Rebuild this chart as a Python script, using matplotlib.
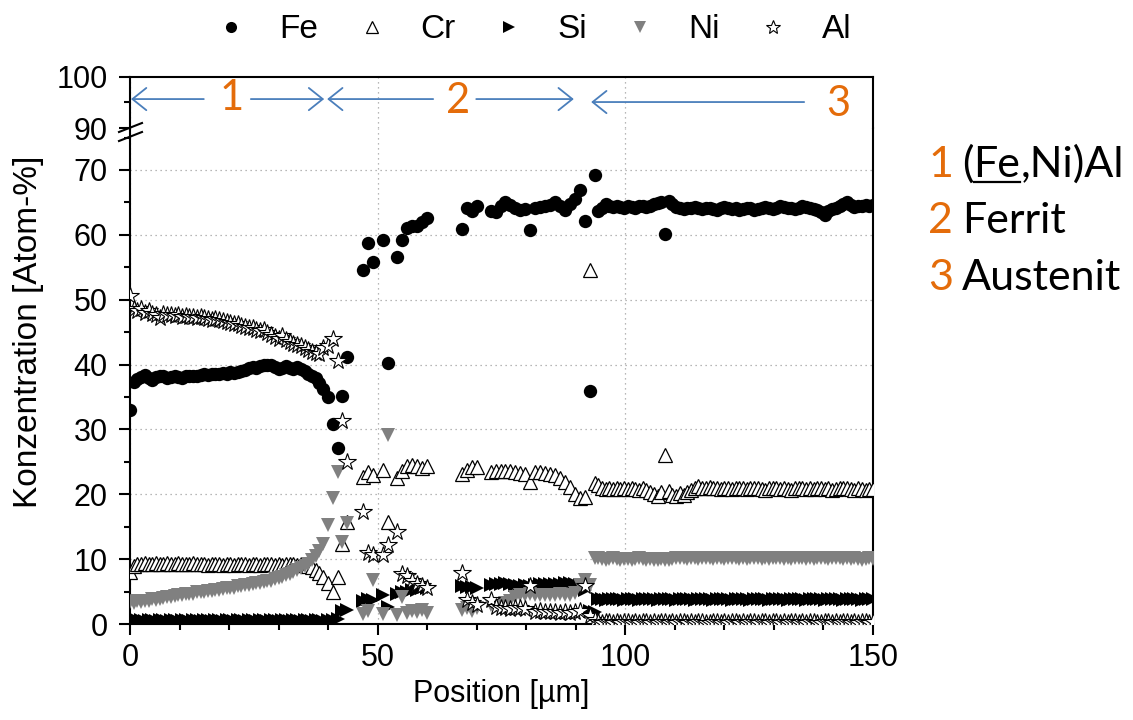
import matplotlib
matplotlib.use("Agg")
import matplotlib.pyplot as plt
import numpy as np
from matplotlib.lines import Line2D
from matplotlib.ticker import MultipleLocator

W, H = 1133, 720
ORANGE = "#E46C0A"
BLUE = "#4A7EBB"
GREY = "#808080"
LABEL_FONT = ["Lato", "DejaVu Sans"]

plt.rcParams["font.family"] = ["Liberation Sans", "DejaVu Sans"]
plt.rcParams["font.size"] = 22

# --- line scan data, concentration in Atom-% ---
elements = ["Fe", "Cr", "Si", "Ni", "Al"]

# zone 1: (Fe,Ni)Al
pos_1 = [0, 0.75, 1.5, 2.25, 3, 3.75, 4.5, 5.25, 6, 6.75, 7.5, 8.25, 9, 9.75, 10.5, 11.25, 12, 12.75,
         13.5, 14.25, 15, 15.75, 16.5, 17.25, 18, 18.75, 19.5, 20.25, 21, 21.75, 22.5, 23.25, 24, 24.75,
         25.5, 26.25, 27, 27.75, 28.5, 29.25, 30, 30.75, 31.5, 32.25, 33, 33.75, 34.5, 35.25, 36, 36.75,
         37.5, 38.25, 39]
fe_1 = [33.0, 37.3, 37.8, 38.1, 38.4, 38.0, 37.6, 38.1, 38.3, 38.2,
        38.0, 38.1, 38.2, 38.1, 38.0, 38.2, 38.3, 38.2, 38.3, 38.4,
        38.5, 38.4, 38.6, 38.5, 38.6, 38.7, 38.6, 38.8, 38.7, 38.9,
        39.0, 39.2, 39.4, 39.6, 39.5, 39.7, 39.9, 40.0, 39.9, 39.6,
        39.3, 39.4, 39.7, 39.5, 39.3, 39.6, 39.3, 39.0, 38.6, 38.3,
        37.9, 37.2, 36.3]
cr_1 = [8.0, 9.0, 9.3, 9.2, 9.4, 9.2, 9.3, 9.4, 9.2, 9.3,
        9.4, 9.3, 9.2, 9.4, 9.3, 9.2, 9.3, 9.4, 9.3, 9.2,
        9.3, 9.1, 9.2, 9.3, 9.2, 9.1, 9.3, 9.2, 9.1, 9.2,
        9.3, 9.2, 9.1, 9.2, 9.3, 9.1, 9.2, 9.3, 9.2, 9.1,
        9.2, 9.1, 9.2, 9.3, 9.2, 9.1, 9.2, 9.1, 9.0, 8.8,
        8.3, 7.8, 7.3]
si_1 = [0.6, 0.5, 0.6, 0.6, 0.5, 0.6, 0.6, 0.5, 0.6, 0.6,
        0.5, 0.6, 0.6, 0.5, 0.6, 0.6, 0.5, 0.6, 0.6, 0.5,
        0.6, 0.6, 0.5, 0.6, 0.6, 0.5, 0.6, 0.6, 0.5, 0.6,
        0.6, 0.5, 0.6, 0.6, 0.5, 0.6, 0.6, 0.5, 0.6, 0.6,
        0.5, 0.6, 0.6, 0.5, 0.6, 0.6, 0.5, 0.6, 0.6, 0.5,
        0.6, 0.6, 0.5]
ni_1 = [3.4, 3.3, 3.5, 3.4, 3.6, 3.6, 3.8, 3.7, 3.9, 4.0,
        4.1, 4.1, 4.3, 4.4, 4.4, 4.6, 4.6, 4.7, 4.9, 4.9,
        5.0, 5.1, 5.1, 5.3, 5.3, 5.4, 5.5, 5.6, 5.6, 5.8,
        5.9, 6.0, 6.0, 6.2, 6.3, 6.3, 6.5, 6.6, 6.7, 6.9,
        7.1, 7.3, 7.5, 7.7, 8.0, 8.3, 8.6, 8.9, 9.3, 9.9,
        10.5, 11.3, 12.4]
al_1 = [50.6, 48.6, 48.3, 48.5, 48.0, 48.2, 47.8, 47.7, 47.2, 47.8,
        47.6, 47.7, 47.5, 47.6, 47.4, 47.5, 47.3, 47.4, 47.2, 47.3,
        47.1, 47.0, 46.9, 47.0, 46.8, 46.7, 46.6, 46.4, 46.2, 46.3,
        46.0, 45.8, 45.6, 45.7, 45.4, 45.1, 45.3, 44.9, 44.6, 44.3,
        44.0, 44.4, 43.8, 43.5, 43.2, 43.0, 42.8, 42.6, 42.3, 42.0,
        41.8, 41.6, 42.5]

# transition 1 -> 2
pos_t = [39.9, 40.9, 41.9, 42.9, 43.9]
fe_t = [35.0, 30.8, 27.2, 35.1, 41.2]
cr_t = [6.3, 5.0, 7.3, 12.3, 15.8]
si_t = [0.6, 0.6, 0.7, 2.0, 2.2]
ni_t = [15.3, 19.4, 23.5, 12.7, 15.6]
al_t = [42.8, 44.0, 40.5, 31.3, 25.0]

# zone 2: ferrite, first part
pos_2a = [47, 48, 49, 51, 52, 54, 55, 56, 57, 58, 59, 60]
fe_2a = [54.6, 58.8, 55.8, 59.2, 40.2, 56.6, 59.2, 61.1, 61.4, 61.4, 62.0, 62.6]
cr_2a = [22.6, 23.5, 23.0, 23.8, 15.8, 22.5, 23.6, 24.3, 24.5, 24.3, 24.1, 24.3]
si_2a = [3.5, 3.8, 3.7, 4.5, 2.6, 4.6, 4.9, 5.0, 5.2, 5.3, 5.5, 5.6]
ni_2a = [1.6, 2.0, 6.8, 1.6, 29.1, 1.4, 4.2, 1.7, 2.0, 1.8, 2.2, 1.7]
al_2a = [17.3, 10.9, 10.6, 10.7, 12.2, 14.2, 7.7, 7.4, 6.6, 6.2, 5.9, 5.6]

# zone 2: ferrite, second part
pos_2b = [67.0, 68.0, 69.0, 70.0, 72.8, 73.8, 74.8, 75.8, 76.8, 77.8, 78.8, 79.8, 80.8,
          81.8, 82.8, 83.8, 84.8, 85.8, 86.8, 87.8, 88.8, 89.8, 90.8, 91.8, 92.8, 93.8]
fe_2b = [60.9, 64.2, 63.6, 64.4, 63.6, 63.5, 64.4, 65.0, 64.6, 64.2, 63.8, 64.0, 60.7,
         64.2, 64.3, 64.4, 64.6, 65.1, 64.4, 63.9, 64.8, 65.6, 66.9, 62.1, 35.9, 69.2]
cr_2b = [23.2, 23.7, 24.2, 24.2, 23.5, 23.6, 23.6, 23.6, 23.6, 23.5, 23.3, 23.2, 21.9,
         23.5, 23.4, 23.3, 23.1, 22.9, 22.5, 21.9, 21.1, 20.0, 19.4, 19.6, 54.6, 21.8]
si_2b = [5.8, 5.7, 5.7, 5.6, 6.0, 6.2, 6.2, 6.3, 6.2, 6.0, 5.9, 6.0, 5.8,
         6.0, 6.1, 6.1, 6.2, 6.2, 6.2, 6.3, 6.3, 6.2, 6.0, 5.2, 2.0, 1.8]
ni_2b = [2.2, 2.4, 2.0, 2.5, 3.0, 2.8, 3.0, 3.3, 3.5, 4.2, 4.5, 4.4, 4.6,
         4.4, 4.5, 4.5, 4.5, 4.4, 4.6, 4.5, 4.4, 4.8, 6.0, 6.8, 6.0, 10.1]
al_2b = [7.8, 3.7, 3.3, 3.0, 3.7, 2.6, 2.5, 2.4, 2.3, 2.5, 2.4, 2.3, 5.8,
         1.9, 2.0, 1.8, 1.8, 1.9, 1.7, 1.8, 1.7, 1.9, 2.0, 5.8, 1.3, 0.6]

# zone 3: austenite
pos_3 = [94.5, 95.25, 96, 96.75, 97.5, 98.25, 99, 99.75, 100.5, 101.25, 102, 102.75, 103.5, 104.25, 105,
         105.75, 106.5, 107.25, 108, 108.75, 109.5, 110.25, 111, 111.75, 112.5, 113.25, 114, 114.75, 115.5, 116.25,
         117, 117.75, 118.5, 119.25, 120, 120.75, 121.5, 122.25, 123, 123.75, 124.5, 125.25, 126, 126.75, 127.5,
         128.25, 129, 129.75, 130.5, 131.25, 132, 132.75, 133.5, 134.25, 135, 135.75, 136.5, 137.25, 138, 138.75,
         139.5, 140.25, 141, 141.75, 142.5, 143.25, 144, 144.75, 145.5, 146.25, 147, 147.75, 148.5, 149.25, 150]
fe_3 = [63.7, 64.2, 64.8, 64.5, 64.3, 64.4, 64.3, 64.2, 64.4, 64.3, 64.2, 64.4, 64.5, 64.3, 64.5,
        64.7, 64.9, 65.0, 60.1, 65.2, 64.8, 64.3, 64.2, 64.0, 64.2, 64.1, 64.3, 64.2, 64.0, 64.1,
        64.2, 64.0, 63.9, 64.1, 64.3, 64.2, 64.0, 64.1, 63.9, 64.0, 64.2, 64.1, 63.9, 64.0, 64.2,
        64.3, 64.1, 64.0, 64.2, 64.4, 64.3, 64.1, 64.2, 64.0, 64.2, 64.4, 64.3, 64.2, 64.0, 63.8,
        63.5, 63.0, 63.6, 64.0, 64.2, 64.4, 64.8, 65.1, 64.6, 64.3, 64.5, 64.4, 64.6, 64.5, 64.6]
cr_3 = [21.4, 20.9, 20.8, 20.9, 20.8, 20.9, 20.8, 20.9, 20.8, 20.9, 20.8, 20.7, 20.9, 20.6, 20.3,
        20.0, 19.8, 20.3, 26.1, 20.5, 19.9, 19.7, 20.2, 19.9, 20.4, 20.6, 20.9, 21.2, 21.0, 20.9,
        21.1, 21.0, 20.9, 20.8, 21.0, 20.9, 20.8, 20.9, 21.0, 20.9, 20.8, 20.9, 21.0, 20.9, 20.8,
        20.7, 20.9, 21.0, 20.9, 20.8, 20.9, 20.8, 20.7, 20.9, 21.0, 20.9, 20.8, 20.9, 20.8, 20.9,
        21.0, 20.8, 20.9, 20.7, 20.8, 20.9, 21.0, 20.9, 20.8, 20.7, 20.9, 20.8, 20.7, 20.8, 20.8]
si_3 = [3.9, 3.8, 3.7, 3.9, 3.8, 3.8, 3.9, 3.7, 3.8, 3.9, 3.8, 3.7, 3.8, 3.9, 3.8,
        3.8, 3.7, 3.9, 3.8, 3.8, 3.9, 3.7, 3.8, 3.8, 3.9, 3.8, 3.7, 3.8, 3.9, 3.8,
        3.8, 3.7, 3.9, 3.8, 3.8, 3.9, 3.7, 3.8, 3.8, 3.9, 3.8, 3.7, 3.8, 3.9, 3.8,
        3.8, 3.7, 3.9, 3.8, 3.8, 3.9, 3.7, 3.8, 3.8, 3.9, 3.8, 3.7, 3.8, 3.9, 3.8,
        3.8, 3.7, 3.9, 3.8, 3.8, 3.9, 3.7, 3.8, 3.8, 3.9, 3.8, 3.7, 3.8, 3.9, 3.8]
ni_3 = [10.1, 10.0, 9.9, 10.0, 10.1, 10.0, 9.9, 10.0, 10.0, 9.9, 10.0, 10.1, 10.0, 9.9, 10.0,
        9.8, 9.9, 10.0, 9.9, 9.8, 10.0, 10.1, 10.2, 10.1, 10.0, 10.2, 10.1, 10.0, 10.1, 10.2,
        10.1, 10.0, 10.2, 10.1, 10.0, 10.1, 10.2, 10.1, 10.0, 10.1, 10.0, 10.1, 10.2, 10.1, 10.0,
        10.1, 10.0, 10.1, 10.2, 10.1, 10.0, 10.1, 10.0, 10.1, 10.2, 10.1, 10.0, 10.1, 10.0, 10.1,
        10.2, 10.1, 10.0, 10.1, 10.2, 10.1, 10.0, 10.1, 10.0, 10.1, 10.0, 9.9, 10.0, 10.1, 10.0]
al_3 = [0.3, 0.2, 0.3, 0.3, 0.2, 0.3, 0.2, 0.3, 0.3, 0.2, 0.3, 0.2, 0.3, 0.3, 0.2,
        0.3, 0.2, 0.3, 0.3, 0.2, 0.3, 0.2, 0.3, 0.3, 0.2, 0.3, 0.2, 0.3, 0.3, 0.2,
        0.2, 0.3, 0.3, 0.2, 0.3, 0.2, 0.3, 0.3, 0.2, 0.3, 0.2, 0.3, 0.3, 0.2, 0.3,
        0.3, 0.2, 0.3, 0.3, 0.2, 0.3, 0.2, 0.3, 0.3, 0.2, 0.3, 0.2, 0.3, 0.3, 0.2,
        0.2, 0.3, 0.3, 0.2, 0.3, 0.2, 0.3, 0.3, 0.2, 0.3, 0.2, 0.3, 0.3, 0.2, 0.3]

zone_names = ["(Fe,Ni)Al", "Ferrit", "Austenit"]


def join(*parts):
    return np.concatenate([np.asarray(p, dtype=float) for p in parts])


pos = join(pos_1, pos_t, pos_2a, pos_2b, pos_3)
conc = {
    "Fe": join(fe_1, fe_t, fe_2a, fe_2b, fe_3),
    "Cr": join(cr_1, cr_t, cr_2a, cr_2b, cr_3),
    "Si": join(si_1, si_t, si_2a, si_2b, si_3),
    "Ni": join(ni_1, ni_t, ni_2a, ni_2b, ni_3),
    "Al": join(al_1, al_t, al_2a, al_2b, al_3),
}
for el in elements:
    assert len(conc[el]) == len(pos), el

styles = {
    "Fe": dict(marker="o", ms=9.6, color="black", mew=0),
    "Cr": dict(marker="^", ms=10.5, mfc="white", mec="black", mew=0.9),
    "Si": dict(marker=">", ms=10.5, color="black", mew=0),
    "Ni": dict(marker="v", ms=10.5, color=GREY, mew=0),
    "Al": dict(marker="*", ms=13, mfc="white", mec="black", mew=0.8),
}
legend_size = {"Fe": 8, "Cr": 8.5, "Si": 8.5, "Ni": 8.5, "Al": 10}


def px_x(px):
    return px / W


def px_y(px):
    return 1 - px / H


fig = plt.figure(figsize=(W / 100, H / 100), dpi=100)
ax = fig.add_axes([px_x(130), px_y(624), 743 / W, 496 / H])
ax_top = fig.add_axes([px_x(130), px_y(128), 743 / W, 51.3 / H])

for el in elements:
    ax.plot(pos, conc[el], ls="none", zorder=3, **styles[el])

grid_kw = dict(ls=(0, (1, 3)), lw=0.9, color="#a0a0a0")
for a in (ax, ax_top):
    a.set_xlim(0, 150)
    a.xaxis.set_major_locator(MultipleLocator(50))
    a.xaxis.set_minor_locator(MultipleLocator(10))
    for sp in a.spines.values():
        sp.set_linewidth(1.5)
    a.tick_params(which="major", direction="out", length=8, width=1.5, labelsize=22)
    a.tick_params(which="minor", direction="out", length=4, width=1.5)
    a.tick_params(axis="x", pad=6)
    a.tick_params(axis="y", pad=8)

ax.set_ylim(0, 76.47)
ax.yaxis.set_major_locator(MultipleLocator(10))
ax.yaxis.set_minor_locator(MultipleLocator(5))
ax.spines["top"].set_visible(False)
ax.grid(True, which="major", **grid_kw)

ax_top.set_ylim(90, 100)
ax_top.set_yticks([90, 100])
ax_top.set_yticks([95], minor=True)
ax_top.spines["bottom"].set_visible(False)
ax_top.tick_params(axis="x", which="both", bottom=False, labelbottom=False)
ax_top.grid(True, axis="x", which="major", **grid_kw)

# axis break marks
for y0, y1 in ((132, 123), (141, 132)):
    fig.add_artist(Line2D([px_x(119), px_x(142)], [px_y(y0), px_y(y1)], color="black", lw=1.5))

# zone arrows
arrow_kw = dict(arrowstyle="->,head_length=0.5,head_width=0.4", color=BLUE, lw=1.3,
                shrinkA=0, shrinkB=0, mutation_scale=20)
for tail, head, y in ((14.9, 0.2, 95.64), (24.4, 39.2, 95.64), (61.2, 39.8, 95.64),
                      (69.9, 89.6, 95.64), (136.1, 93.1, 95.06)):
    ax_top.annotate("", xy=(head, y), xytext=(tail, y), arrowprops=arrow_kw, annotation_clip=False)
for num, (x, y) in enumerate(((20.6, 93.5), (66.2, 92.9), (142.9, 92.3)), start=1):
    ax_top.text(x, y, str(num), color=ORANGE, fontsize=30, family=LABEL_FONT,
                ha="center", va="baseline")

# axis labels
fig.text(px_x(501), px_y(694), "Position [µm]", ha="center", va="center", fontsize=22)
fig.text(px_x(28.5), px_y(332), "Konzentration [Atom-%]", ha="center", va="center",
         rotation=90, fontsize=24)

# legend
handles = []
for el in elements:
    st = dict(styles[el])
    st["ms"] = legend_size[el]
    handles.append(Line2D([], [], ls="none", **st))
fig.legend(handles, elements, loc="center", bbox_to_anchor=(px_x(533), px_y(30)), ncol=5,
           frameon=False, handlelength=1.0, handletextpad=0.95, columnspacing=1.1,
           fontsize=24, borderpad=0, borderaxespad=0)

# zone key on the right
renderer = fig.canvas.get_renderer()


def text_run(x_px, base_px, parts):
    x = x_px
    for s, color, underline in parts:
        t = fig.text(px_x(x), px_y(base_px), s, color=color, fontsize=31, family=LABEL_FONT,
                     ha="left", va="baseline")
        bb = t.get_window_extent(renderer)
        if underline:
            fig.add_artist(Line2D([px_x(bb.x0), px_x(bb.x1)], [px_y(base_px + 5)] * 2,
                                  color="black", lw=1.6))
        x = bb.x1


for i, (name, base) in enumerate(zip(zone_names, (177, 233, 290)), start=1):
    text_run(928, base, [(str(i), ORANGE, False)])
    if name.startswith("(Fe"):
        text_run(962, base, [("(", "black", False), ("Fe", "black", True),
                             (name[3:], "black", False)])
    else:
        text_run(962, base, [(name, "black", False)])

fig.savefig("out.png", dpi=100)
